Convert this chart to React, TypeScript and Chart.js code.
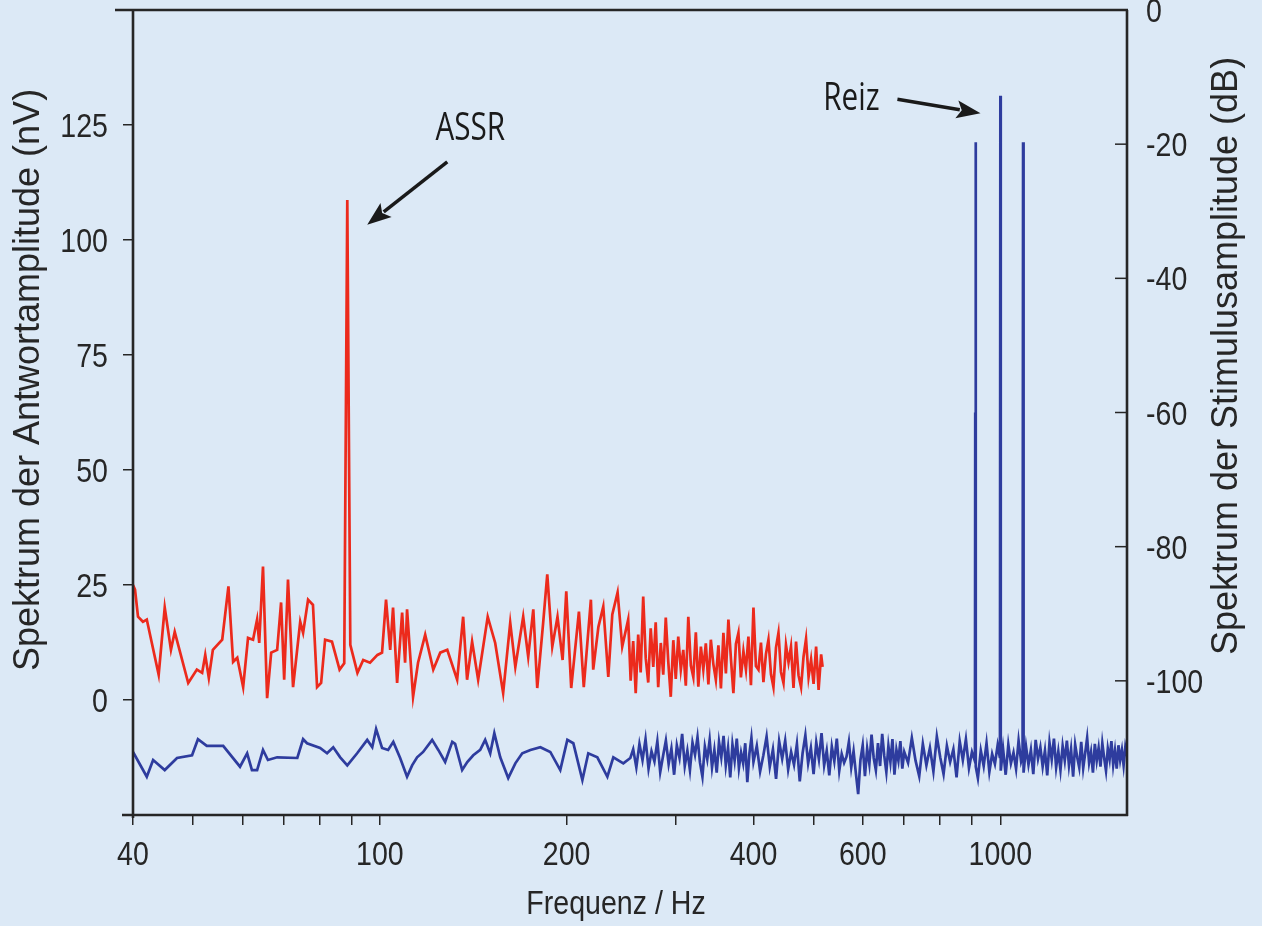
import React, { useEffect, useRef } from "react";
import { Chart, registerables } from "chart.js";

Chart.register(...registerables);

// ---------- data ----------
const redFreq = [
  40.0, 40.3, 40.75, 41.5, 42.1, 44.0, 45.0, 46.05, 46.7, 49.1,
  50.7, 51.7, 52.3, 53.0, 53.8, 55.7, 57.0, 58.0, 58.9, 60.2,
  61.3, 62.45, 63.4, 63.9, 64.8, 65.8, 66.8, 68.3, 69.3, 70.1,
  71.1, 72.45, 74.4, 75.2, 76.6, 78.0, 79.2, 80.4, 81.6, 83.7,
  86.1, 87.6, 88.6, 89.6, 92.0, 94.0, 96.4, 99.1, 100.8, 102.3,
  103.9, 105.0, 106.6, 108.6, 109.8, 110.6, 113.1, 115.2, 118.3, 121.9,
  125.1, 128.4, 133.2, 136.2, 138.2, 140.8, 144.0, 149.2, 153.4, 158.0,
  162.2, 165.3, 170.2, 173.4, 176.7, 179.3, 183.3, 186.1, 189.6, 193.3,
  197.0, 199.7, 203.4, 209.3, 213.1, 218.8, 220.7, 225.0, 229.1, 233.4,
  236.9, 241.6, 245.8,
  251.3, 253.6, 256.0, 258.4, 260.8, 263.2, 265.7, 268.2, 270.7, 273.2,
  275.8, 278.3, 280.9, 283.6, 286.2, 288.9, 291.6, 294.3, 297.1, 299.8,
  302.6, 305.5, 308.3, 311.2, 314.1, 317.1, 320.0, 323.0, 326.0, 329.1,
  332.1, 335.2, 338.4, 341.5, 344.7, 347.9, 351.2, 354.5, 357.8, 361.1,
  364.5, 367.9, 371.3, 374.8, 378.3, 381.8, 385.4, 389.0, 392.6, 396.3,
  400.0, 403.7, 407.5, 411.3, 415.1, 419.0, 422.9, 426.9, 430.8, 434.9,
  438.9, 443.0, 447.2, 451.3, 455.6, 459.8, 464.1, 468.5, 472.8, 477.3,
  481.7, 486.2, 490.8, 495.4, 500.0, 504.7, 509.4, 514.2, 517.0,
];
const redAmp = [
  25.0, 24.0, 18.1, 17.0, 17.5, 5.5, 20.1, 10.9, 14.8, 3.7,
  6.6, 5.9, 9.8, 4.8, 10.9, 13.1, 24.7, 8.3, 9.2, 2.8,
  13.5, 13.1, 17.5, 12.4, 29.0, 0.4, 10.3, 10.9, 21.2, 4.4,
  26.2, 2.8, 17.0, 14.6, 21.8, 20.7, 2.8, 3.7, 13.1, 12.7,
  6.6, 8.0, 108.7, 12.0, 5.9, 8.7, 8.1, 9.8, 10.3, 21.8,
  10.9, 20.1, 3.7, 19.0, 8.1, 19.7, 0.7, 8.1, 14.2, 6.6,
  10.3, 10.9, 4.4, 18.1, 4.4, 12.7, 4.4, 18.1, 12.4, 1.5,
  16.8, 7.2, 18.1, 9.4, 19.7, 2.6, 16.8, 27.3, 11.6, 18.1,
  8.7, 23.6, 2.6, 19.2, 2.8, 21.8, 6.6, 15.9, 20.3, 5.0,
  18.6, 23.4, 11.6,
  17.5, 4.2, 12.8, 1.5, 14.2, 6.0, 22.5, 9.1, 3.8, 15.6,
  7.2, 16.9, 2.8, 12.4, 5.5, 17.9, 8.3, 0.7, 13.0, 4.6,
  13.8, 6.6, 10.9, 3.1, 18.1, 7.5, 5.0, 14.7, 2.9, 11.6,
  6.6, 12.3, 3.4, 13.1, 7.8, 4.4, 11.9, 2.5, 14.6, 5.8,
  17.5, 9.0, 1.5, 12.2, 14.6, 4.9, 10.6, 6.6, 13.8, 3.2,
  20.1, 7.4, 6.6, 12.5, 3.9, 10.0, 13.1, 5.6, 2.8, 11.4,
  14.6, 6.1, 3.7, 12.0, 8.2, 11.6, 2.6, 12.7, 5.4, 2.8,
  9.4, 13.3, 5.0, 8.8, 3.5, 11.6, 2.2, 9.9, 7.2,
];

const blueFreq = [
  40.0, 42.1, 43.1, 45.0, 47.1, 49.8, 50.9, 52.6, 55.9, 59.5,
  61.1, 62.2, 63.4, 64.8, 66.0, 68.3, 73.6, 75.2, 76.3, 80.1,
  82.2, 84.1, 86.3, 88.6, 91.9, 95.4, 97.2, 98.6, 100.8, 103.1,
  105.1, 107.8, 110.6, 112.7, 114.8, 117.4, 121.4, 124.2, 127.4, 130.8,
  132.2, 135.7, 138.3, 141.4, 145.1, 147.8, 150.6, 152.9, 156.3, 161.0,
  165.3, 169.6, 174.8, 181.4, 188.2, 195.3, 200.5, 205.0, 212.0, 216.7,
  224.1, 232.6, 237.8, 246.8, 253.3,
  256, 259, 262, 265, 268, 271, 274, 277, 280, 283,
  286, 289, 292, 295, 298, 301, 304, 307, 310, 313,
  316, 319, 322, 325, 328, 331, 334, 337, 340, 343,
  346, 349, 352, 355, 358, 361, 364, 367, 370, 373,
  376, 379, 382, 385, 388, 391, 394, 397, 400,
  405, 410, 415, 420, 425, 430, 435, 440, 445, 450,
  455, 460, 465, 470, 475, 480, 485, 490, 495, 500,
  505, 510, 515, 520, 525, 530, 535, 540, 545, 550,
  555, 560, 565, 570, 575, 580, 585, 590, 595, 600,
  605, 610, 615, 620, 625, 630, 635, 640, 645, 650,
  655, 660, 665, 670, 675, 680, 685, 690, 695, 700,
  710, 720, 730, 740, 750, 760, 770, 780, 790, 800,
  810, 820, 830, 840, 850, 860, 870, 880, 890, 900,
  910, 911, 912, 913.5, 920, 930, 940, 950, 960, 970,
  980, 990, 998.5, 1000, 1001.5, 1010, 1020, 1030, 1040, 1050,
  1060, 1070, 1080, 1086, 1088, 1090, 1100, 1110, 1120, 1130,
  1140, 1150, 1160, 1170, 1180, 1190, 1200, 1210, 1220, 1230,
  1240, 1250, 1260, 1270, 1280, 1290, 1300, 1310, 1320, 1330,
  1340, 1350, 1360, 1370, 1380, 1390, 1400, 1410, 1420, 1430,
  1440, 1450, 1460, 1470, 1480, 1490, 1500, 1510, 1520, 1530,
  1540, 1550, 1560, 1570, 1580, 1590, 1600,
];
const blueDb = [
  -110.6, -114.3, -111.8, -113.3, -111.5, -111.1, -108.7, -109.7, -109.7, -112.8,
  -110.8, -113.3, -113.3, -110.3, -111.8, -111.4, -111.5, -108.7, -109.3, -110.0,
  -110.8, -109.9, -111.4, -112.6, -110.8, -108.8, -109.9, -107.2, -110.0, -110.3,
  -109.1, -111.5, -114.3, -112.6, -111.4, -110.6, -108.8, -110.3, -112.1, -109.1,
  -109.4, -113.3, -112.1, -111.1, -110.3, -108.8, -110.8, -107.8, -111.4, -114.5,
  -112.3, -110.8, -110.3, -109.9, -110.6, -113.3, -108.8, -109.3, -114.8, -110.8,
  -111.4, -114.3, -111.4, -112.3, -111.5,
  -110.2, -112.9, -109.4, -111.8, -108.7, -113.1, -110.5, -112.0, -109.0, -113.6,
  -111.2, -108.9, -112.4, -110.1, -114.0, -109.6, -111.5, -107.9, -112.7, -110.4,
  -113.3, -109.2, -111.0, -108.4, -112.2, -114.3, -109.8, -111.7, -108.8, -112.9,
  -110.3, -113.7, -109.1, -111.4, -108.2, -112.6, -110.0, -114.4, -109.5, -111.9,
  -108.6, -113.0, -110.7, -112.3, -109.3, -115.1, -110.9, -108.5, -112.1,
  -109.7, -113.5, -111.1, -108.3, -112.8, -110.2, -114.6, -109.0, -111.6, -108.9,
  -113.2, -110.6, -112.5, -109.4, -115.0, -110.8, -108.1, -112.3, -110.0, -113.9,
  -109.2, -111.7, -107.8, -112.6, -110.4, -114.1, -109.8, -112.0, -108.6, -113.4,
  -110.9, -112.2, -111.3, -109.1, -112.9, -110.5, -113.8, -116.9, -111.8, -109.6,
  -114.2, -110.1, -112.4, -108.0, -111.5, -113.3, -109.3, -112.7, -107.9, -111.2,
  -113.6, -109.7, -112.1, -108.7, -114.0, -110.3, -111.9, -109.0, -113.1, -110.6,
  -112.2, -108.5, -111.9, -114.2, -109.4, -112.6, -110.0, -113.5, -108.3, -111.4,
  -113.9, -109.7, -112.1, -110.2, -114.4, -109.0, -111.8, -108.7, -113.0, -110.6,
  -112.0, -60.0, -19.7, -112.8, -114.5, -110.4, -112.7, -109.3, -113.6, -110.9,
  -112.4, -109.6, -111.5, -12.8, -113.4, -110.1, -114.0, -109.5, -112.3, -110.7,
  -113.1, -108.9, -112.0, -111.2, -19.7, -113.7, -109.8, -112.5, -110.3, -113.9,
  -108.8, -111.6, -109.9, -112.8, -110.4, -114.1, -109.2, -111.7, -108.6, -112.9,
  -110.5, -113.3, -109.7, -111.9, -108.9, -112.6, -110.2, -114.3, -109.5, -111.4,
  -112.9, -109.1, -113.0, -110.8, -108.5, -112.2, -110.6, -113.7, -109.4, -111.9,
  -110.0, -112.8, -109.3, -111.5, -113.4, -110.1, -111.7, -109.0, -112.5, -110.4,
  -113.1, -109.6, -111.8, -110.3, -112.6, -109.9, -111.2,
];

const xTickValues = [40, 50, 60, 70, 80, 90, 100, 200, 300, 400, 500, 600, 700, 800, 900, 1000];
const xTickLabels = [40, 100, 200, 400, 600, 1000];
const leftTicks = [0, 25, 50, 75, 100, 125];
const rightTicks = [0, -20, -40, -60, -80, -100];

const xTitle = "Frequenz / Hz";
const leftTitle = "Spektrum der Antwortamplitude (nV)";
const rightTitle = "Spektrum der Stimulusamplitude (dB)";

// annotations in data coordinates (label anchor = baseline centre)
const assrText = { label: "ASSR", f: 139.8, v: 121.7 };
const assrArrow = { f1: 128.4, v1: 117.0, f2: 95.4, v2: 103.3 };
const reizText = { label: "Reiz", f: 575.5, db: -14.9 };
const reizArrow = { f1: 682.5, db1: -13.3, f2: 929, db2: -15.4 };

// ---------- styles ----------
const BG = "#dce9f6";
const INK = "#262626";
const RED = "#ec2a1c";
const BLUE = "#2e3c9e";
const FONT = "'Liberation Sans', Arial, sans-serif";
const HUMAN = "'Open Sans', 'Liberation Sans', sans-serif";
const TICK_SIZE = 34;
const SQUEEZE = 0.84;

function squeezedText(
  ctx: CanvasRenderingContext2D,
  text: string,
  x: number,
  y: number,
  align: CanvasTextAlign,
  sx: number
) {
  ctx.save();
  ctx.translate(x, y);
  ctx.scale(sx, 1);
  ctx.textAlign = align;
  ctx.fillText(text, 0, 0);
  ctx.restore();
}

function drawArrow(ctx: CanvasRenderingContext2D, x1: number, y1: number, x2: number, y2: number) {
  const head = 24;
  const half = 9;
  const ang = Math.atan2(y2 - y1, x2 - x1);
  const bx = x2 - head * Math.cos(ang);
  const by = y2 - head * Math.sin(ang);
  ctx.beginPath();
  ctx.moveTo(x1, y1);
  ctx.lineTo(bx + 3 * Math.cos(ang), by + 3 * Math.sin(ang));
  ctx.stroke();
  ctx.beginPath();
  ctx.moveTo(x2, y2);
  ctx.lineTo(bx + half * Math.sin(ang), by - half * Math.cos(ang));
  ctx.lineTo(bx + 5 * Math.cos(ang), by + 5 * Math.sin(ang));
  ctx.lineTo(bx - half * Math.sin(ang), by + half * Math.cos(ang));
  ctx.closePath();
  ctx.fill();
}

const decor = {
  id: "decor",
  afterDraw(chart: any) {
    const { ctx, chartArea: a, scales } = chart;
    const sx = scales.x;
    const sy = scales.y;
    const sy2 = scales.y2;
    ctx.save();
    ctx.strokeStyle = INK;
    ctx.fillStyle = INK;
    ctx.lineWidth = 2.6;
    // frame
    ctx.beginPath();
    ctx.moveTo(a.left - 18, a.top);
    ctx.lineTo(a.right + 1, a.top);
    ctx.moveTo(a.left - 11, a.bottom);
    ctx.lineTo(a.right + 1, a.bottom);
    ctx.moveTo(a.left, a.top);
    ctx.lineTo(a.left, a.bottom + 3);
    ctx.moveTo(a.right, a.top);
    ctx.lineTo(a.right, a.bottom + 1);
    ctx.stroke();
    // inward ticks on right axis
    ctx.lineWidth = 1.5;
    rightTicks.forEach((v) => {
      if (v === 0) return;
      const py = sy2.getPixelForValue(v);
      ctx.beginPath();
      ctx.moveTo(a.right - 12, py);
      ctx.lineTo(a.right, py);
      ctx.stroke();
    });
    // tick labels
    ctx.font = `${TICK_SIZE}px ${FONT}`;
    ctx.textBaseline = "alphabetic";
    const half = Math.round(TICK_SIZE * 0.358);
    leftTicks.forEach((v) => {
      squeezedText(ctx, String(v), a.left - 25, sy.getPixelForValue(v) + half, "right", SQUEEZE);
    });
    rightTicks.forEach((v) => {
      squeezedText(ctx, String(v), a.right + 19, sy2.getPixelForValue(v) + half, "left", SQUEEZE);
    });
    xTickLabels.forEach((v) => {
      squeezedText(ctx, String(v), sx.getPixelForValue(v), a.bottom + 50, "center", SQUEEZE);
    });
    // axis titles
    squeezedText(ctx, xTitle, 616, 914, "center", SQUEEZE);
    ctx.font = `36px ${FONT}`;
    ctx.textBaseline = "middle";
    ctx.textAlign = "center";
    ctx.save();
    ctx.translate(29, 380);
    ctx.rotate(-Math.PI / 2);
    ctx.fillText(leftTitle, 0, 0);
    ctx.restore();
    ctx.save();
    ctx.translate(1227, 356);
    ctx.rotate(-Math.PI / 2);
    ctx.fillText(rightTitle, 0, 0);
    ctx.restore();
    // annotations
    ctx.font = `38px ${HUMAN}`;
    ctx.textBaseline = "alphabetic";
    ctx.fillStyle = "#1a1a1a";
    squeezedText(ctx, assrText.label, sx.getPixelForValue(assrText.f), sy.getPixelForValue(assrText.v), "center", 0.78);
    squeezedText(ctx, reizText.label, sx.getPixelForValue(reizText.f), sy2.getPixelForValue(reizText.db), "center", 0.78);
    ctx.strokeStyle = "#1a1a1a";
    ctx.lineWidth = 3.5;
    drawArrow(
      ctx,
      sx.getPixelForValue(assrArrow.f1), sy.getPixelForValue(assrArrow.v1),
      sx.getPixelForValue(assrArrow.f2), sy.getPixelForValue(assrArrow.v2)
    );
    drawArrow(
      ctx,
      sx.getPixelForValue(reizArrow.f1), sy2.getPixelForValue(reizArrow.db1),
      sx.getPixelForValue(reizArrow.f2), sy2.getPixelForValue(reizArrow.db2)
    );
    ctx.restore();
  },
};

export default function App() {
  const ref = useRef<HTMLCanvasElement | null>(null);

  useEffect(() => {
    document.body.style.margin = "0";
    document.body.style.background = BG;
    const canvas = ref.current;
    if (!canvas) return;
    const red = redFreq.map((f, i) => ({ x: f, y: redAmp[i] }));
    const blue = blueFreq.map((f, i) => ({ x: f, y: blueDb[i] }));
    const chart = new Chart(canvas, {
      type: "line",
      data: {
        datasets: [
          {
            label: "Antwort",
            data: red,
            yAxisID: "y",
            borderColor: RED,
            borderWidth: 2.7,
            pointRadius: 0,
            tension: 0,
          },
          {
            label: "Stimulus",
            data: blue,
            yAxisID: "y2",
            borderColor: BLUE,
            borderWidth: 2.7,
            pointRadius: 0,
            tension: 0,
          },
        ],
      },
      options: {
        responsive: false,
        animation: false,
        devicePixelRatio: 1,
        layout: { padding: { top: 10, left: 0, right: 0, bottom: 0 } },
        plugins: { legend: { display: false }, tooltip: { enabled: false } },
        scales: {
          x: {
            type: "logarithmic",
            position: "bottom",
            min: 40,
            max: 1600,
            afterBuildTicks: (s: any) => {
              s.ticks = xTickValues.map((v) => ({ value: v }));
            },
            afterFit: (s: any) => {
              s.height = 111;
              s.paddingLeft = 0;
              s.paddingRight = 0;
            },
            ticks: { display: false, autoSkip: false, maxRotation: 0 },
            grid: { display: true, drawOnChartArea: false, drawTicks: true, tickLength: 10, color: INK, lineWidth: 1.5 },
            border: { display: false },
          },
          y: {
            type: "linear",
            position: "left",
            min: -25,
            max: 150,
            afterBuildTicks: (s: any) => {
              s.ticks = leftTicks.map((v) => ({ value: v }));
            },
            afterFit: (s: any) => {
              s.width = 133;
              s.paddingTop = 0;
              s.paddingBottom = 0;
            },
            ticks: { display: false },
            grid: { display: true, drawOnChartArea: false, drawTicks: true, tickLength: 10, color: INK, lineWidth: 1.5 },
            border: { display: false },
          },
          y2: {
            type: "linear",
            position: "right",
            min: -120,
            max: 0,
            afterBuildTicks: (s: any) => {
              s.ticks = rightTicks.map((v) => ({ value: v }));
            },
            afterFit: (s: any) => {
              s.width = 135;
              s.paddingTop = 0;
              s.paddingBottom = 0;
            },
            ticks: { display: false },
            grid: { display: false, drawOnChartArea: false, drawTicks: false },
            border: { display: false },
          },
        },
      },
      plugins: [decor],
    } as any);
    return () => chart.destroy();
  }, []);

  return (
    <div style={{ position: "fixed", left: 0, top: 0, width: 1262, height: 926, background: BG }}>
      <canvas ref={ref} width={1262} height={926} style={{ width: 1262, height: 926, display: "block" }} />
    </div>
  );
}
